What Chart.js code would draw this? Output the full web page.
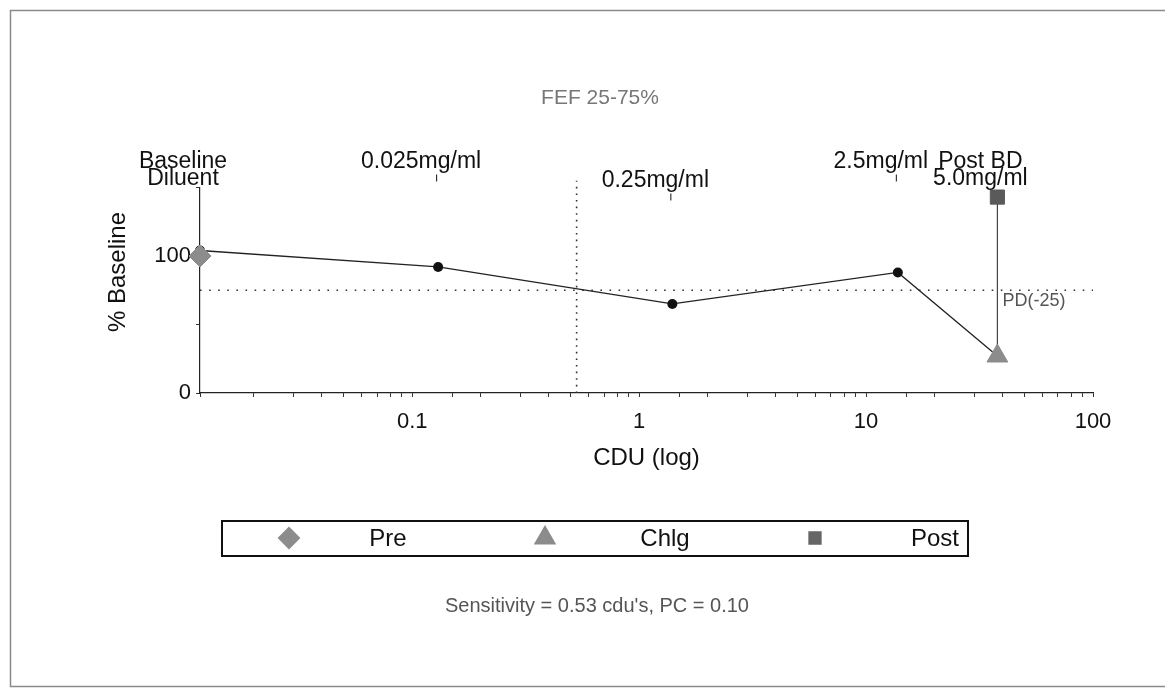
<!DOCTYPE html>
<html>
<head>
<meta charset="UTF-8">
<title>FEF 25-75%</title>
<script src="https://cdn.jsdelivr.net/npm/chart.js"></script>
<style>
    body { margin: 0; background: #fff; }
    #wrap { position: relative; width: 1165px; height: 688px; }
</style>
</head>
<body>
<div id="wrap"><canvas id="chart" width="1165" height="688"></canvas></div>
<script>
// dose steps (labels above the plot) and their cumulative dose units
const doseNames = [['Baseline', 'Diluent'], ['0.025mg/ml'], ['0.25mg/ml'], ['2.5mg/ml'], ['Post BD', '5.0mg/ml']];
const doseCdu = [0.0116, 0.130, 1.40, 13.8, 37.9];
// % baseline values
const stepValues = [104, 92, 65, 88];   // black dots, doses 0..3
const preValue = 100;                   // Pre (diamond) at baseline
const chlgValue = 27;                   // Chlg (triangle) at last dose
const postValue = 143;                  // Post (square) at last dose
const pdLevel = 75;                     // PD(-25)
const sensitivity = 0.53;
const xMin = 0.0116, xMax = 100;
const xTickLabels = [0.1, 1, 10, 100];
const yTickLabels = [0, 100];

const FONT = '"Liberation Sans", Arial, sans-serif';
const labelRow = [0, 0, 1, 0, 0]; // 0.25mg/ml sits a row lower

const stepLine = stepValues.map((v, i) => ({x: doseCdu[i], y: v}));
stepLine.push({x: doseCdu[4], y: chlgValue});

const textPlugin = {
    id: 'texts',
    beforeDraw(chart) {
        const ctx = chart.ctx;
        ctx.save();
        ctx.fillStyle = '#fff';
        ctx.fillRect(0, 0, chart.width, chart.height);
        ctx.strokeStyle = '#8a8a8a';
        ctx.lineWidth = 1.5;
        ctx.beginPath();
        ctx.moveTo(1165, 10.5);
        ctx.lineTo(10.5, 10.5);
        ctx.lineTo(10.5, 686.5);
        ctx.lineTo(1165, 686.5);
        ctx.stroke();
        ctx.restore();
    },
    afterDatasetsDraw(chart) {
        const ctx = chart.ctx;
        const xs = chart.scales.x, ys = chart.scales.y;
        const top = chart.chartArea.top;
        ctx.save();
        ctx.fillStyle = '#111';
        ctx.strokeStyle = '#111';
        ctx.lineWidth = 1;
        ctx.font = '23px ' + FONT;
        ctx.textAlign = 'center';
        ctx.textBaseline = 'middle';
        doseNames.forEach((lines, i) => {
            const px = xs.getPixelForValue(doseCdu[i]);
            const y0 = top - 26 + labelRow[i] * 19;
            lines.forEach((t, j) => ctx.fillText(t, px - 17, y0 + j * 17));
            if (lines.length === 1) {
                ctx.beginPath();
                ctx.moveTo(px - 1.5, y0 + 13);
                ctx.lineTo(px - 1.5, y0 + 20);
                ctx.stroke();
            }
        });
        // PD(-25) label
        ctx.font = '18px ' + FONT;
        ctx.fillStyle = '#555';
        ctx.textAlign = 'left';
        ctx.fillText('PD(-25)', xs.getPixelForValue(doseCdu[4]) + 5, ys.getPixelForValue(pdLevel) + 11);
        // y axis title
        ctx.save();
        ctx.translate(118, 272);
        ctx.rotate(-Math.PI / 2);
        ctx.textAlign = 'center';
        ctx.fillStyle = '#111';
        ctx.font = '24px ' + FONT;
        ctx.fillText('% Baseline', 0, 0);
        ctx.restore();
        ctx.restore();
    },
    afterDraw(chart) {
        const ctx = chart.ctx;
        ctx.save();
        ctx.textAlign = 'center';
        ctx.textBaseline = 'middle';
        ctx.fillStyle = '#777';
        ctx.font = '21px ' + FONT;
        ctx.fillText('FEF 25-75%', 600, 98);
        ctx.fillStyle = '#555';
        ctx.font = '20px ' + FONT;
        ctx.fillText('Sensitivity = ' + sensitivity.toFixed(2) + " cdu's, PC = 0.10", 597, 606);

        // legend box
        ctx.strokeStyle = '#111';
        ctx.lineWidth = 2;
        ctx.strokeRect(222, 521, 746, 35);
        const items = [
            {style: 'rectRot', r: 10, c: '#8c8c8c', mx: 289, text: 'Pre', tx: 388},
            {style: 'triangle', r: 11, c: '#8c8c8c', mx: 545, text: 'Chlg', tx: 665},
            {style: 'rect', r: 8, c: '#666', mx: 815, text: 'Post', tx: 935}
        ];
        ctx.font = '24px ' + FONT;
        items.forEach(it => {
            ctx.fillStyle = it.c;
            ctx.strokeStyle = it.c;
            Chart.helpers.drawPoint(ctx, {pointStyle: it.style, radius: it.r, rotation: 0, borderWidth: 1}, it.mx, 538);
            ctx.fillStyle = '#111';
            ctx.fillText(it.text, it.tx, 539);
        });
        ctx.restore();
    }
};

new Chart(document.getElementById('chart'), {
    type: 'scatter',
    data: {
        datasets: [
            {
                label: 'Pre',
                data: [{x: doseCdu[0], y: preValue}],
                pointStyle: 'rectRot', pointRadius: 11, clip: false,
                backgroundColor: '#8c8c8c', borderColor: '#8c8c8c', borderWidth: 1
            },
            {
                label: 'Chlg',
                data: [{x: doseCdu[4], y: chlgValue}],
                pointStyle: 'triangle', pointRadius: 12, clip: false,
                backgroundColor: '#8c8c8c', borderColor: '#8c8c8c', borderWidth: 1
            },
            {
                label: 'Post',
                data: [{x: doseCdu[4], y: postValue}],
                pointStyle: 'rect', pointRadius: 10, clip: false,
                backgroundColor: '#5a5a5a', borderColor: '#5a5a5a', borderWidth: 1
            },
            {
                label: 'steps',
                data: stepLine,
                showLine: true, clip: false,
                borderColor: '#222', borderWidth: 1.3,
                backgroundColor: '#111',
                pointRadius: [5, 5, 5, 5, 0],
                pointBorderWidth: 0
            },
            {
                label: 'post-chlg',
                data: [{x: doseCdu[4], y: postValue}, {x: doseCdu[4], y: chlgValue}],
                showLine: true, borderColor: '#444', borderWidth: 1.2, pointRadius: 0
            },
            {
                label: 'PD',
                data: [{x: xMin, y: pdLevel}, {x: xMax, y: pdLevel}],
                showLine: true, borderColor: '#333', borderWidth: 1.6,
                borderDash: [1.6, 7.5], pointRadius: 0
            },
            {
                label: 'sensitivity',
                data: [{x: sensitivity, y: 0}, {x: sensitivity, y: 155}],
                showLine: true, borderColor: '#333', borderWidth: 1.6,
                borderDash: [1.6, 5], pointRadius: 0, clip: false
            }
        ]
    },
    options: {
        responsive: false,
        animation: false,
        layout: {padding: {left: 100, right: 72, top: 187.5, bottom: 213}},
        plugins: {
            legend: {display: false},
            tooltip: {enabled: false}
        },
        scales: {
            x: {
                type: 'logarithmic',
                min: xMin, max: xMax,
                afterFit(scale) { scale.height = 82; },
                border: {display: true, color: '#222', width: 1.2},
                grid: {display: true, drawOnChartArea: false, drawTicks: true, tickLength: 4, color: '#333'},
                ticks: {
                    autoSkip: false, maxRotation: 0, padding: 12,
                    color: '#111', font: {family: FONT, size: 22},
                    callback: v => xTickLabels.some(t => Math.abs(t - v) / t < 1e-6) ? String(v) : ''
                },
                title: {
                    display: true, text: 'CDU (log)', color: '#111',
                    font: {family: FONT, size: 24}, padding: {top: 0, bottom: 2}
                }
            },
            y: {
                min: 0, max: 150,
                afterFit(scale) { scale.width = 100; },
                border: {display: true, color: '#222', width: 1.2},
                grid: {display: true, drawOnChartArea: false, drawTicks: true, tickLength: 4, color: '#333'},
                ticks: {
                    stepSize: 50, padding: 5,
                    color: '#111', font: {family: FONT, size: 22},
                    callback: v => yTickLabels.includes(v) ? String(v) : ''
                }
            }
        }
    },
    plugins: [textPlugin]
});
</script>
</body>
</html>
